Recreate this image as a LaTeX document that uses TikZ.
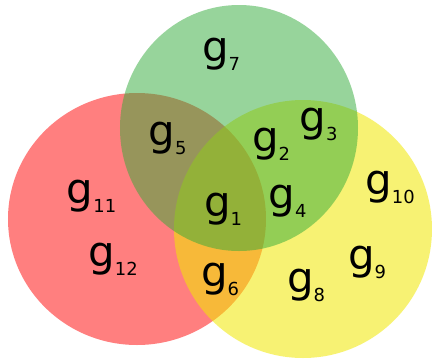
\documentclass[tikz,border=0pt]{standalone}
\usepackage{fontspec}
\setmainfont{DejaVu Sans}
\definecolor{cred}{RGB}{255,0,0}
\definecolor{cyel}{RGB}{241,233,0}
\definecolor{cgrn}{RGB}{49,171,57}
\newcommand{\glab}[1]{g\raisebox{-9bp}{\fontsize{18}{18}\selectfont #1}}
\begin{document}
\begin{tikzpicture}[x=1bp,y=-1bp,
  setfill/.style={fill opacity=0.5, draw=none},
  lab/.style={inner sep=0pt, font=\fontsize{42}{42}\selectfont, text=black}]
\useasboundingbox (0,0) rectangle (432,360);
\fill[white] (0,0) rectangle (432,360);
\fill[setfill, cred] (137,219) ellipse [x radius=129bp, y radius=126bp];
\fill[setfill, fill opacity=0.55, cyel] (303,229) ellipse [x radius=129bp, y radius=129bp];
\fill[setfill, cgrn] (239,128) ellipse [x radius=119bp, y radius=123bp];
\node[lab] (l1) at (223,209) {\glab{1}};
\node[lab] (l2) at (271,144) {\glab{2}};
\node[lab] (l3) at (318.5,124) {\glab{3}};
\node[lab] (l4) at (287.5,201) {\glab{4}};
\node[lab] (l5) at (167.5,138) {\glab{5}};
\node[lab] (l6) at (220,279) {\glab{6}};
\node[lab] (l7) at (221,54) {\glab{7}};
\node[lab] (l8) at (306,285) {\glab{8}};
\node[lab] (l9) at (367,262) {\glab{9}};
\node[lab] (l10) at (390,187) {\glab{10}};
\node[lab] (l11) at (91.5,196) {\glab{11}};
\node[lab] (l12) at (113,259) {\glab{12}};
\end{tikzpicture}
\end{document}
